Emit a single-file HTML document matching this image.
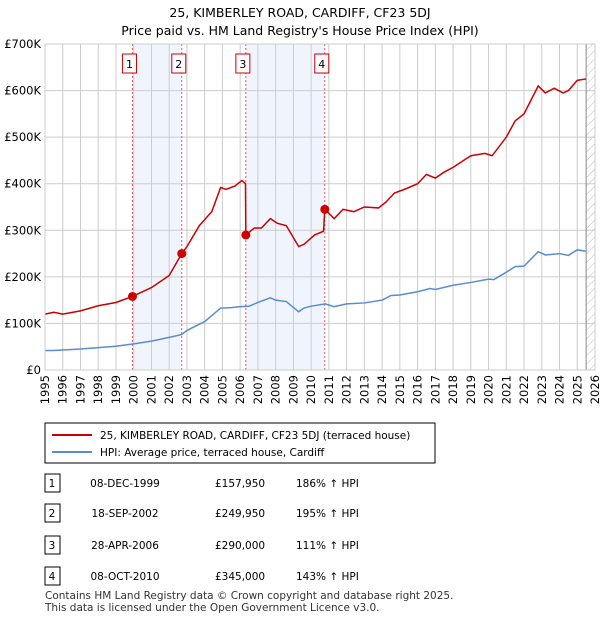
<!DOCTYPE html>
<html><head><meta charset="utf-8"><style>
body{margin:0;width:600px;height:620px;background:#fff;font-family:"DejaVu Sans","Liberation Sans",sans-serif;color:#000;position:relative;overflow:hidden}
svg text{font-family:"DejaVu Sans","Liberation Sans",sans-serif}
</style></head><body>
<svg width="600" height="620" style="position:absolute;left:0;top:0">
<defs><pattern id="hatch" width="6" height="6" patternUnits="userSpaceOnUse" patternTransform="rotate(45)"><line x1="0" y1="0" x2="0" y2="6" stroke="#bbb" stroke-width="1"/></pattern></defs>
<text x="300" y="17" text-anchor="middle" font-size="12.5">25, KIMBERLEY ROAD, CARDIFF, CF23 5DJ</text>
<text x="300" y="35" text-anchor="middle" font-size="12.5">Price paid vs. HM Land Registry's House Price Index (HPI)</text>
<g id="plot"></g>
<rect x="45" y="423" width="390" height="40" fill="#fff" stroke="#000" stroke-width="1"/>
<line x1="52" y1="435" x2="92" y2="435" stroke="#cc0000" stroke-width="2"/>
<text x="100" y="439" font-size="10.5">25, KIMBERLEY ROAD, CARDIFF, CF23 5DJ (terraced house)</text>
<line x1="52" y1="452" x2="92" y2="452" stroke="#5b8bd0" stroke-width="2"/>
<text x="100" y="456" font-size="10.5">HPI: Average price, terraced house, Cardiff</text>
<g id="table"></g>
<text x="45" y="599" font-size="10.5" fill="#333">Contains HM Land Registry data © Crown copyright and database right 2025.</text>
<text x="45" y="611" font-size="10.5" fill="#333">This data is licensed under the Open Government Licence v3.0.</text>
</svg>
<script>
const hpiYears=[1995,1995.5,1996,1997,1998,1999,2000,2001,2002,2002.7,2003,2004,2004.9,2005.5,2006,2006.5,2007,2007.7,2008,2008.6,2009.3,2009.6,2010,2010.8,2011.3,2012,2013,2014,2014.5,2015,2016,2016.7,2017,2018,2019,2020,2020.3,2021,2021.5,2022,2022.8,2023.2,2024,2024.5,2025,2025.5];
const hpiValues=[42,42,43,45,48,51,56,62,70,76,85,104,133,134,136,137,145,155,150,147,125,133,137,142,136,142,144,150,160,161,168,175,173,182,188,195,194,210,222,223,254,247,250,246,258,255];
const priceYears=[1995,1995.5,1996,1997,1998,1999,1999.93,2001,2002,2002.71,2003,2003.7,2004.4,2004.9,2005.2,2005.7,2006.1,2006.3,2006.32,2006.8,2007.2,2007.7,2008.1,2008.6,2009.3,2009.6,2010.2,2010.7,2010.77,2011.3,2011.8,2012.4,2013,2013.8,2014.2,2014.7,2015.4,2016,2016.5,2017,2017.5,2018,2019,2019.8,2020.2,2021,2021.5,2022,2022.8,2023.2,2023.7,2024.2,2024.5,2025,2025.5];
const priceValues=[120,124,120,127,138,145,158,177,203,250,265,310,340,392,388,395,407,400,290,305,305,325,315,310,265,270,290,298,345,325,345,340,350,348,360,380,390,400,420,412,425,435,460,465,460,500,535,550,610,595,605,595,600,622,625];
const saleLabels=["1","2","3","4"];
const saleYears=[1999.93,2002.71,2006.32,2010.77];
const saleValues=[157.95,249.95,290,345];
const saleDates=["08-DEC-1999","18-SEP-2002","28-APR-2006","08-OCT-2010"];
const salePrices=["£157,950","£249,950","£290,000","£345,000"];
const salePcts=["186% ↑ HPI","195% ↑ HPI","111% ↑ HPI","143% ↑ HPI"];
const yTicks=[0,100,200,300,400,500,600,700];
const yTickLabels=["£0","£100K","£200K","£300K","£400K","£500K","£600K","£700K"];
const x0=45,x1=595,y0=370,y1=44;
const X=v=>x0+(v-1995)/(2026-1995)*(x1-x0);
const Y=v=>y0-v/700*(y0-y1);
const NS="http://www.w3.org/2000/svg";
const plot=document.getElementById('plot');
function mk(tag,attrs,parent){const e=document.createElementNS(NS,tag);for(const k in attrs)e.setAttribute(k,attrs[k]);(parent||plot).appendChild(e);return e;}
[[0,1],[2,3]].forEach(p=>{const r=mk('rect',{x:X(saleYears[p[0]]),y:y1,width:X(saleYears[p[1]])-X(saleYears[p[0]]),height:y0-y1,fill:'#f0f4fd'});

});
const h=mk('rect',{x:X(2025.5),y:y1,width:x1-X(2025.5),height:y0-y1,fill:'url(#hatch)'});


for(let yr=1995;yr<=2026;yr++){const l=mk('line',{x1:X(yr),x2:X(yr),y1:y1,y2:y0,stroke:'#ccc','stroke-width':1});


const t=mk('text',{x:0,y:0,'font-size':11.5,'text-anchor':'end',transform:`translate(${X(yr)+4},${y0+5}) rotate(-90)`});t.textContent=yr;

}
yTicks.forEach((v,i)=>{const l=mk('line',{x1:x0,x2:x1,y1:Y(v),y2:Y(v),stroke:'#ccc','stroke-width':1});


const t=mk('text',{x:x0-4,y:Y(v)+4,'font-size':11.5,'text-anchor':'end'});t.textContent=yTickLabels[i];

});
const bl=mk('line',{x1:X(2025.5),x2:X(2025.5),y1:y1,y2:y0,stroke:'#888','stroke-width':1});


saleYears.forEach((yr,i)=>{const l=mk('line',{x1:X(yr),x2:X(yr),y1:y1,y2:y0,stroke:'#ee5555','stroke-width':1,'stroke-dasharray':'2,2'});


const b=mk('rect',{x:X(yr)-10,y:54,width:14,height:19,fill:'#fff',stroke:'#cc0000'});


const t=mk('text',{x:X(yr)-3,y:68,'font-size':11,'text-anchor':'middle'});t.textContent=saleLabels[i];

});
const hp=mk('polyline',{points:hpiYears.map((y,i)=>X(y)+','+Y(hpiValues[i])).join(' '),fill:'none',stroke:'#5b8bd0','stroke-width':1.5});


const pp=mk('polyline',{points:priceYears.map((y,i)=>X(y)+','+Y(priceValues[i])).join(' '),fill:'none',stroke:'#cc0000','stroke-width':1.5});


saleYears.forEach((yr,i)=>{const c=mk('circle',{cx:X(yr),cy:Y(saleValues[i]),r:4.5,fill:'#cc0000'});

});
const ax=mk('rect',{x:x0,y:y1,width:x1-x0,height:y0-y1,fill:'none',stroke:'#ccc'});


const tb=document.getElementById('table');
const rowY=[483,513,545,576];
saleLabels.forEach((s,i)=>{const y=rowY[i];
const b=mk('rect',{x:45,y:y-9,width:15,height:18,fill:'#fff',stroke:'#000'},tb);


const cells=[[52,s,'middle'],[125,saleDates[i],'middle'],[215,salePrices[i],'start'],[296,salePcts[i],'start']];
cells.forEach(c=>{const t=mk('text',{x:c[0],y:y+4,'font-size':10.5,'text-anchor':c[2]},tb);t.textContent=c[1];

});});
</script>
</body></html>
